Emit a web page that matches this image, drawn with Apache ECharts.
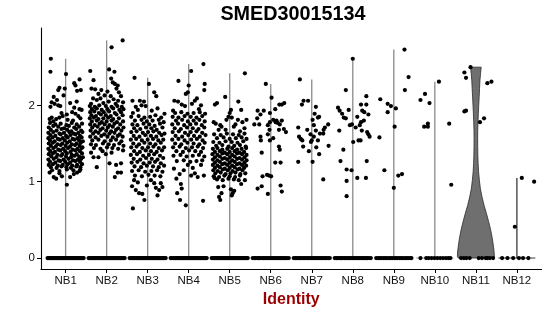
<!DOCTYPE html>
<html><head><meta charset="utf-8">
<script src="https://cdn.jsdelivr.net/npm/echarts@6/dist/echarts.min.js"></script>
<style>html,body{margin:0;padding:0;background:#fff}#c{width:550px;height:316px}</style>
</head><body><div id="c"></div>
<script>
const chartTitle = 'SMED30015134';
const xAxisTitle = 'Identity';
const categories = ['NB1','NB2','NB3','NB4','NB5','NB6','NB7','NB8','NB9','NB10','NB11','NB12'];
const yTickValues = [0, 1, 2];

// non-zero expression values per identity: [jitter offset, value]
const nb1Points = [
[-0.36,2.61],[-0.37,2.44],[0.01,2.41],[0.34,2.34],[0.21,2.29],[0.24,2.26],[0.37,2.20],[0.28,2.19],[-0.15,2.23],[-0.18,2.20],[-0.02,2.22],[-0.29,2.11],[-0.34,2.04],[-0.27,2.02],[-0.21,2.07],[-0.13,1.99],[-0.18,2.00],[-0.37,1.98],[0.11,2.03],[0.21,1.97],[0.34,1.95],[0.39,1.94],[0.24,1.89],[0.03,1.88],[0.16,1.91],[-0.34,1.84],[-0.39,1.82],[-0.23,1.82],[-0.15,1.84],[-0.07,1.86],[0.31,1.86],[0.36,1.83],[0.18,1.80],[-0.30,1.79],[0.05,1.81],[-0.10,1.90],[0.27,2.05],[-0.05,2.13],
[-0.38,1.77],[-0.25,1.75],[-0.12,1.76],[0.02,1.74],[0.15,1.77],[0.27,1.75],[0.40,1.76],
[-0.41,1.71],[-0.30,1.73],[-0.18,1.72],[-0.04,1.70],[0.08,1.73],[0.21,1.71],[0.33,1.72],
[-0.36,1.68],[-0.22,1.67],[-0.10,1.69],[0.04,1.68],[0.14,1.66],[0.26,1.69],[0.38,1.67],
[-0.42,1.64],[-0.30,1.65],[-0.15,1.63],[-0.04,1.64],[0.09,1.65],[0.20,1.63],[0.31,1.64],[0.41,1.65],
[-0.37,1.61],[-0.25,1.60],[-0.12,1.62],[0.01,1.60],[0.12,1.61],[0.24,1.62],[0.35,1.60],
[-0.42,1.57],[-0.32,1.58],[-0.19,1.56],[-0.07,1.57],[0.05,1.58],[0.17,1.56],[0.29,1.57],[0.39,1.58],
[-0.38,1.54],[-0.27,1.53],[-0.14,1.55],[-0.02,1.54],[0.10,1.53],[0.22,1.55],[0.33,1.54],[0.42,1.53],
[-0.41,1.50],[-0.31,1.51],[-0.20,1.49],[-0.08,1.50],[0.04,1.51],[0.15,1.49],[0.27,1.50],[0.37,1.51],
[-0.36,1.47],[-0.24,1.46],[-0.12,1.48],[0.00,1.47],[0.11,1.46],[0.23,1.48],[0.34,1.47],[0.41,1.45],
[-0.42,1.43],[-0.30,1.44],[-0.18,1.42],[-0.06,1.43],[0.06,1.44],[0.17,1.42],[0.29,1.43],[0.39,1.44],
[-0.37,1.40],[-0.26,1.39],[-0.13,1.41],[-0.01,1.40],[0.12,1.39],[0.24,1.41],[0.35,1.40],
[-0.41,1.36],[-0.31,1.37],[-0.20,1.35],[-0.08,1.36],[0.03,1.37],[0.15,1.35],[0.27,1.36],[0.40,1.37],
[-0.35,1.33],[-0.23,1.32],[-0.11,1.34],[0.01,1.33],[0.13,1.32],[0.22,1.34],[0.33,1.33],[0.42,1.32],
[-0.42,1.29],[-0.29,1.30],[-0.17,1.28],[-0.05,1.29],[0.07,1.30],[0.18,1.28],[0.30,1.29],[0.38,1.30],
[-0.38,1.26],[-0.25,1.25],[-0.13,1.27],[-0.01,1.26],[0.11,1.25],[0.24,1.27],[0.35,1.26],
[-0.41,1.22],[-0.31,1.23],[-0.19,1.21],[-0.07,1.22],[0.05,1.23],[0.16,1.21],[0.28,1.22],[0.40,1.23],
[-0.36,1.19],[-0.22,1.18],[-0.10,1.20],[0.02,1.19],[0.13,1.18],[0.26,1.20],[0.36,1.19],
[-0.33,1.15],[-0.15,1.14],[0.03,1.16],[0.19,1.15],[0.34,1.14],
[-0.23,1.04],[-0.29,1.06],[-0.09,1.07],[0.11,1.06],[0.03,0.96],[-0.15,1.11],[0.28,1.12],[0.20,1.10],[-0.39,1.12],[0.36,1.16]
];
const nb2Points = [
[0.39,2.85],[0.12,2.76],[-0.40,2.45],[0.06,2.47],[0.19,2.44],[-0.32,2.33],[0.11,2.35],[0.20,2.28],[0.15,2.30],[0.27,2.26],[0.24,2.22],[-0.37,2.22],[-0.28,2.21],[-0.13,2.20],[0.02,2.18],[0.30,2.17],[-0.20,2.15],[-0.05,2.13],[0.10,2.12],[0.35,2.12],[-0.33,2.09],[-0.24,2.07],[-0.15,2.09],[0.17,2.08],[0.28,2.06],[0.40,2.04],[-0.38,2.02],[-0.08,2.03],[0.05,2.05],[0.22,2.02],
[-0.41,1.99],[-0.29,1.98],[-0.18,2.00],[-0.02,1.99],[0.12,1.98],[0.26,1.99],[0.37,1.98],
[-0.36,1.95],[-0.24,1.96],[-0.12,1.94],[0.02,1.95],[0.16,1.96],[0.31,1.94],[0.41,1.95],
[-0.40,1.91],[-0.30,1.92],[-0.19,1.90],[-0.07,1.91],[0.06,1.92],[0.20,1.90],[0.35,1.91],
[-0.37,1.87],[-0.26,1.86],[-0.14,1.88],[-0.02,1.87],[0.10,1.86],[0.24,1.88],[0.39,1.87],
[-0.41,1.83],[-0.31,1.84],[-0.20,1.82],[-0.08,1.83],[0.04,1.84],[0.16,1.82],[0.30,1.83],
[-0.36,1.79],[-0.24,1.80],[-0.12,1.78],[0.00,1.79],[0.12,1.80],[0.25,1.78],[0.40,1.79],
[-0.40,1.75],[-0.29,1.74],[-0.17,1.76],[-0.05,1.75],[0.07,1.74],[0.19,1.76],[0.33,1.75],
[-0.35,1.71],[-0.22,1.72],[-0.10,1.70],[0.03,1.71],[0.15,1.72],[0.28,1.70],[0.41,1.71],
[-0.39,1.67],[-0.27,1.66],[-0.15,1.68],[-0.01,1.67],[0.11,1.66],[0.23,1.68],[0.36,1.67],
[-0.33,1.63],[-0.20,1.64],[-0.06,1.62],[0.07,1.63],[0.19,1.64],[0.32,1.62],
[-0.40,1.59],[-0.27,1.58],[-0.13,1.60],[0.02,1.59],[0.15,1.58],[0.27,1.60],[0.39,1.59],
[-0.35,1.54],[-0.20,1.55],[-0.05,1.53],[0.10,1.54],[0.23,1.55],[0.36,1.53],
[-0.38,1.49],[-0.26,1.48],[-0.09,1.50],[0.05,1.49],[0.18,1.48],[0.31,1.50],[0.41,1.47],
[-0.31,1.44],[-0.15,1.43],[0.01,1.45],[0.14,1.44],[0.28,1.43],
[-0.32,1.32],[-0.20,1.32],[-0.24,1.19],[-0.02,1.36],[0.07,1.24],[0.23,1.22],[0.20,1.06],[0.27,1.12],[0.35,1.12],[0.35,1.24],[0.40,1.41],[-0.38,1.38],[0.12,1.38],[-0.10,1.40]
];
const nb3Points = [
[-0.32,2.36],[0.03,2.28],[0.16,2.17],[0.21,2.12],[-0.37,2.06],[-0.19,2.06],[-0.09,2.05],[-0.29,1.98],[-0.15,2.00],[-0.05,1.99],[0.24,1.96],[0.41,1.89],[-0.36,1.90],[0.10,1.93],[-0.24,1.94],
[-0.40,1.85],[-0.22,1.86],[-0.08,1.84],[0.06,1.85],[0.19,1.87],[0.33,1.84],
[-0.31,1.80],[-0.15,1.81],[-0.02,1.79],[0.12,1.80],[0.27,1.81],[0.39,1.78],
[-0.37,1.75],[-0.25,1.74],[-0.10,1.76],[0.04,1.75],[0.17,1.73],[0.30,1.76],
[-0.33,1.70],[-0.18,1.69],[-0.04,1.71],[0.09,1.70],[0.22,1.68],[0.36,1.71],
[-0.40,1.65],[-0.27,1.66],[-0.12,1.64],[0.01,1.65],[0.14,1.66],[0.28,1.64],[0.41,1.63],
[-0.34,1.60],[-0.20,1.59],[-0.06,1.61],[0.08,1.60],[0.21,1.59],[0.34,1.61],
[-0.41,1.55],[-0.28,1.56],[-0.14,1.54],[0.00,1.55],[0.13,1.56],[0.26,1.54],[0.38,1.55],
[-0.35,1.50],[-0.21,1.49],[-0.08,1.51],[0.06,1.50],[0.19,1.49],[0.32,1.51],
[-0.40,1.45],[-0.27,1.46],[-0.13,1.44],[0.01,1.45],[0.14,1.46],[0.27,1.44],[0.40,1.45],
[-0.33,1.40],[-0.19,1.39],[-0.05,1.41],[0.08,1.40],[0.22,1.39],[0.35,1.41],
[-0.41,1.35],[-0.26,1.36],[-0.11,1.34],[0.03,1.35],[0.16,1.36],[0.30,1.34],
[-0.34,1.30],[-0.18,1.29],[-0.04,1.31],[0.10,1.30],[0.24,1.29],[0.38,1.31],
[-0.39,1.25],[-0.25,1.26],[-0.10,1.24],[0.05,1.25],[0.18,1.26],[0.32,1.24],
[-0.32,1.20],[-0.16,1.19],[-0.02,1.21],[0.13,1.20],[0.27,1.19],[0.40,1.21],
[-0.38,1.14],[-0.22,1.15],[-0.06,1.13],[0.09,1.14],[0.23,1.15],[0.36,1.13],
[-0.31,1.08],[-0.14,1.07],[0.02,1.09],[0.17,1.08],[0.31,1.07],
[-0.36,0.65],[-0.08,0.76],[-0.29,0.89],[-0.21,0.85],[-0.13,0.84],[-0.24,0.99],[-0.33,1.02],[0.24,0.82],[0.28,0.89],[0.36,0.93],[0.32,0.98],[0.16,0.98],[0.08,1.02],[-0.02,0.95],[0.20,0.92],[-0.38,0.94]
];
const nb4Points = [
[0.36,2.54],[0.06,2.45],[-0.25,2.32],[0.39,2.28],[0.38,2.20],[0.00,2.26],[-0.02,2.17],[-0.07,2.15],[0.20,2.09],[0.15,2.06],[-0.35,2.06],[-0.26,2.05],[-0.17,2.01],[-0.09,1.99],[-0.38,1.93],[0.30,2.00],[0.08,2.02],[0.25,1.95],
[-0.33,1.90],[-0.18,1.91],[-0.03,1.89],[0.12,1.90],[0.27,1.91],[0.40,1.89],
[-0.39,1.85],[-0.25,1.84],[-0.10,1.86],[0.05,1.85],[0.19,1.84],[0.33,1.86],
[-0.31,1.80],[-0.16,1.81],[-0.02,1.79],[0.12,1.80],[0.26,1.81],[0.39,1.79],
[-0.40,1.75],[-0.26,1.76],[-0.11,1.74],[0.04,1.75],[0.18,1.76],[0.32,1.74],
[-0.34,1.70],[-0.19,1.69],[-0.04,1.71],[0.10,1.70],[0.24,1.69],[0.38,1.71],
[-0.39,1.65],[-0.24,1.66],[-0.09,1.64],[0.05,1.65],[0.19,1.66],[0.33,1.64],
[-0.32,1.60],[-0.16,1.59],[-0.01,1.61],[0.13,1.60],[0.27,1.59],[0.41,1.61],
[-0.40,1.55],[-0.25,1.56],[-0.10,1.54],[0.06,1.55],[0.20,1.56],[0.34,1.54],
[-0.33,1.50],[-0.18,1.49],[-0.03,1.51],[0.12,1.50],[0.26,1.49],[0.39,1.51],
[-0.38,1.45],[-0.22,1.46],[-0.07,1.44],[0.08,1.45],[0.22,1.46],[0.35,1.44],
[-0.30,1.40],[-0.14,1.39],[0.01,1.41],[0.16,1.40],[0.30,1.39],
[-0.37,1.34],[-0.20,1.35],[-0.05,1.33],[0.10,1.34],[0.25,1.35],[0.38,1.33],
[-0.29,1.27],[-0.12,1.28],[0.04,1.26],[0.19,1.27],[0.33,1.28],
[-0.07,0.69],[-0.21,0.76],[-0.28,0.85],[0.35,0.75],[-0.17,0.91],[-0.19,0.97],[-0.30,1.04],[-0.22,1.10],[-0.02,1.22],[0.06,1.08],[0.22,1.06],[0.15,1.11],[0.37,1.08],[0.30,1.22],[-0.36,1.17],[0.10,1.18],[-0.12,1.15]
];
const nb5Points = [
[0.37,2.42],[-0.11,2.11],[-0.36,2.01],[-0.31,2.03],[0.21,2.05],[0.28,1.94],[0.03,1.94],[0.00,1.90],[-0.03,1.85],[0.05,1.84],[-0.08,1.81],[-0.39,1.78],[-0.34,1.76],[0.20,1.81],[0.41,1.81],[0.31,1.78],[-0.20,1.72],[-0.27,1.68],[-0.23,1.74],[0.10,1.72],[0.14,1.75],[0.36,1.70],[-0.10,1.68],[0.25,1.66],
[-0.38,1.62],[-0.22,1.61],[-0.07,1.63],[0.08,1.62],[0.22,1.61],[0.36,1.63],
[-0.31,1.57],[-0.15,1.58],[0.00,1.56],[0.15,1.57],[0.29,1.58],[0.41,1.56],
[-0.40,1.52],[-0.25,1.51],[-0.10,1.53],[0.05,1.52],[0.19,1.51],[0.33,1.53],
[-0.33,1.47],[-0.18,1.48],[-0.03,1.46],[0.11,1.47],[0.25,1.48],[0.39,1.46],
[-0.41,1.43],[-0.30,1.44],[-0.18,1.42],[-0.06,1.43],[0.06,1.44],[0.18,1.42],[0.29,1.43],[0.40,1.44],
[-0.36,1.39],[-0.24,1.40],[-0.12,1.38],[0.00,1.39],[0.12,1.40],[0.24,1.38],[0.35,1.39],
[-0.42,1.36],[-0.30,1.35],[-0.18,1.37],[-0.06,1.36],[0.06,1.35],[0.18,1.37],[0.30,1.36],[0.41,1.35],
[-0.36,1.32],[-0.24,1.33],[-0.12,1.31],[0.00,1.32],[0.12,1.33],[0.24,1.31],[0.36,1.32],
[-0.41,1.29],[-0.30,1.28],[-0.18,1.30],[-0.06,1.29],[0.06,1.28],[0.18,1.30],[0.30,1.29],[0.41,1.28],
[-0.36,1.25],[-0.24,1.26],[-0.12,1.24],[0.00,1.25],[0.12,1.26],[0.24,1.24],[0.36,1.25],
[-0.41,1.22],[-0.30,1.21],[-0.18,1.23],[-0.06,1.22],[0.06,1.21],[0.18,1.23],[0.30,1.22],[0.40,1.21],
[-0.36,1.18],[-0.24,1.19],[-0.12,1.17],[0.00,1.18],[0.12,1.19],[0.24,1.17],[0.35,1.18],
[-0.40,1.15],[-0.29,1.14],[-0.17,1.16],[-0.05,1.15],[0.07,1.14],[0.19,1.16],[0.31,1.15],
[-0.35,1.11],[-0.22,1.12],[-0.10,1.10],[0.02,1.11],[0.14,1.12],[0.26,1.10],[0.38,1.11],
[-0.39,1.07],[-0.26,1.06],[-0.13,1.08],[0.00,1.07],[0.13,1.06],[0.25,1.08],
[-0.31,1.03],[-0.17,1.02],[-0.03,1.04],[0.10,1.03],[0.22,1.02],
[-0.23,0.76],[-0.26,0.80],[-0.20,0.85],[-0.28,0.93],[0.07,0.85],[0.11,0.88],[0.03,0.90],[0.28,0.97],[0.37,1.02],[-0.15,0.94],[-0.37,1.05],[0.05,0.82]
];
const nb6Points = [
[-0.12,2.28],[0.02,2.10],[0.33,2.03],[0.27,2.01],[0.21,2.01],[0.11,1.95],[-0.32,1.93],[-0.17,1.93],[-0.25,1.88],[-0.02,1.90],[-0.33,1.83],[0.06,1.81],[0.14,1.80],[0.12,1.78],[0.17,1.77],[-0.40,1.75],[-0.28,1.75],[-0.02,1.78],[-0.07,1.74],[0.22,1.75],[0.27,1.80],[0.32,1.69],[0.37,1.65],[0.20,1.68],[-0.03,1.68],[-0.25,1.59],[-0.07,1.62],[-0.24,1.54],[-0.02,1.54],[0.06,1.57],[0.20,1.46],[0.22,1.42],[-0.22,1.38],[0.24,1.25],[0.11,1.25],[-0.09,1.09],[0.01,1.07],[-0.04,1.08],[-0.20,1.07],[0.24,0.95],[-0.22,0.94],[-0.32,0.91],[0.27,0.87],[-0.07,0.84]
];
const nb7Points = [
[-0.29,2.34],[-0.24,2.01],[-0.20,2.06],[-0.09,2.06],[0.10,1.98],[0.07,1.89],[0.18,1.85],[0.15,1.84],[0.02,1.81],[0.05,1.74],[-0.33,1.71],[-0.11,1.68],[0.40,1.75],[0.32,1.71],[0.29,1.68],[0.10,1.67],[0.20,1.63],[0.28,1.63],[-0.03,1.62],[0.05,1.59],[-0.31,1.59],[-0.27,1.56],[-0.23,1.54],[0.15,1.54],[0.00,1.54],[-0.02,1.52],[0.41,1.47],[-0.21,1.46],[0.11,1.45],[-0.07,1.40],[0.18,1.36],[-0.33,1.26],[0.02,1.26],[0.28,1.03]
];
const nb8Points = [
[0.00,2.61],[-0.17,2.20],[-0.36,1.97],[-0.32,1.93],[-0.26,1.89],[-0.22,1.84],[-0.17,1.83],[-0.10,1.94],[0.20,2.01],[0.33,2.12],[0.33,2.01],[0.23,1.93],[0.28,1.91],[0.38,1.88],[0.11,1.85],[0.20,1.78],[0.27,1.80],[-0.07,1.74],[-0.02,1.75],[0.07,1.71],[0.17,1.74],[0.22,1.67],[-0.33,1.67],[0.35,1.65],[0.41,1.59],[0.38,1.62],[0.14,1.54],[0.19,1.54],[0.01,1.52],[-0.23,1.42],[-0.30,1.27],[0.34,1.27],[-0.15,1.16],[-0.03,1.15],[0.11,1.05],[0.32,1.05],[-0.15,1.01],[-0.15,0.81]
];
const nb9Points = [
[0.26,2.73],[0.36,2.37],[0.27,2.20],[-0.33,2.08],[-0.15,2.02],[-0.07,1.99],[0.05,1.96],[-0.15,1.91],[0.02,1.72],[-0.35,1.58],[-0.23,1.15],[0.20,1.10],[0.11,1.08],[0.00,0.92]
];
const nb10Points = [
[0.10,2.31],[-0.24,2.15],[-0.35,2.07],[-0.13,2.03],[-0.17,1.76],[-0.17,1.72],[-0.26,1.72],[0.35,1.76],[0.40,0.96]
];
const nb11Points = [
[-0.13,2.50],[-0.28,2.43],[-0.24,2.36],[0.28,2.29],[0.38,2.31],[-0.28,1.92],[-0.24,1.93],[0.10,1.78],[0.20,1.83]
];
const nb12Points = [
[0.12,1.05],[0.42,1.00],[-0.05,0.41]
];

// jitter offsets of the cells with zero expression
const zeroOffsetsDense = [-0.44,-0.41,-0.38,-0.36,-0.33,-0.31,-0.28,-0.26,-0.23,-0.21,-0.18,-0.16,-0.13,-0.11,-0.08,-0.06,-0.03,-0.01,0.02,0.04,0.07,0.09,0.12,0.14,0.17,0.19,0.22,0.24,0.27,0.29,0.32,0.34,0.37,0.39,0.42,0.44];
const zeroOffsetsMedium = [-0.44,-0.40,-0.37,-0.33,-0.30,-0.27,-0.24,-0.20,-0.17,-0.14,-0.10,-0.07,-0.04,0.00,0.03,0.06,0.10,0.13,0.16,0.20,0.23,0.26,0.30,0.33,0.36,0.40,0.44];
const zeroOffsetsNB9 = [-0.43,-0.38,-0.34,-0.30,-0.25,-0.21,-0.17,-0.12,-0.08,-0.04,0.01,0.05,0.09,0.14,0.18,0.22,0.27,0.31,0.35,0.40,0.43];
const zeroOffsetsNB10 = [-0.35,-0.21,-0.15,-0.08,-0.01,0.06,0.13,0.20,0.27,0.33,0.38];
const zeroOffsetsNB11 = [-0.36,-0.29,-0.23,-0.15,0.07,0.15,0.24,0.28,0.34,0.42];
const zeroOffsetsNB12 = [-0.36,-0.23,-0.09,0.05,0.15,0.28];

// estimated density outline (half width, in category units) for NB11
const nb11ViolinLevels = [0, 0.02, 0.08, 0.15, 0.26, 0.37, 0.48, 0.58, 0.69, 0.80, 0.91, 1.02, 1.13, 1.24, 1.35, 1.46, 1.57, 1.67, 1.78, 1.89, 2.00, 2.11, 2.22, 2.33, 2.42, 2.50];
const nb11ViolinHalf   = [0.43, 0.45, 0.445, 0.43, 0.40, 0.36, 0.31, 0.26, 0.20, 0.15, 0.11, 0.085, 0.066, 0.055, 0.048, 0.045, 0.044, 0.046, 0.052, 0.06, 0.07, 0.08, 0.09, 0.10, 0.115, 0.13];

const pointsByCat = [nb1Points,nb2Points,nb3Points,nb4Points,nb5Points,nb6Points,nb7Points,nb8Points,nb9Points,nb10Points,nb11Points,nb12Points];
const zerosByCat = [zeroOffsetsDense,zeroOffsetsDense,zeroOffsetsDense,zeroOffsetsDense,zeroOffsetsDense,zeroOffsetsMedium,zeroOffsetsMedium,zeroOffsetsMedium,zeroOffsetsNB9,zeroOffsetsNB10,zeroOffsetsNB11,zeroOffsetsNB12];

const scatterData = [];
pointsByCat.forEach((pts, i) => {
  zerosByCat[i].forEach(o => scatterData.push([i + 1 + o, 0]));
  pts.forEach(p => scatterData.push([i + 1 + p[0], p[1]]));
});
const violinData = categories.map((c, i) => [i + 1, Math.max(...pointsByCat[i].map(p => p[1]))]);
const catPositions = categories.map((c, i) => i + 1);

function renderViolin(params, api) {
  const pos = api.value(0), top = api.value(1);
  const name = categories[params.dataIndex];
  if (name === 'NB11') {
    const right = nb11ViolinLevels.map((lv, k) => api.coord([pos + nb11ViolinHalf[k], lv]));
    const left = nb11ViolinLevels.map((lv, k) => api.coord([pos - nb11ViolinHalf[k], lv])).reverse();
    return { type: 'polygon', shape: { points: right.concat(left) },
      style: { fill: '#6f6f6f', stroke: '#2b2b2b', lineWidth: 0.8 } };
  }
  const color = name === 'NB12' ? '#3a3a3a' : '#8a8a8a';
  const p0 = api.coord([pos, 0]), p1 = api.coord([pos, top]);
  const b0 = api.coord([pos - 0.45, 0]), b1 = api.coord([pos + 0.45, 0]);
  return { type: 'group', children: [
    { type: 'line', shape: { x1: p0[0], y1: p0[1], x2: p1[0], y2: p1[1] }, style: { stroke: color, lineWidth: 1.3 } },
    { type: 'line', shape: { x1: b0[0], y1: b0[1], x2: b1[0], y2: b1[1] }, style: { stroke: color, lineWidth: 1 } }
  ]};
}

const chart = echarts.init(document.getElementById('c'), null, { renderer: 'canvas' });
const fontFam = '"Liberation Sans", Arial, Helvetica, sans-serif';
chart.setOption({
  animation: false,
  backgroundColor: '#fff',
  grid: { left: 41, right: 8.5, top: 28, bottom: 47, containLabel: false, outerBoundsMode: 'none' },
  graphic: [{ type: 'text', x: 293, y: 15, style: { text: chartTitle, textAlign: 'center', textVerticalAlign: 'middle',
    font: 'bold 19.8px ' + fontFam, fill: '#000' } }],
  xAxis: {
    type: 'value', min: 0.4, max: 12.6,
    name: xAxisTitle, nameLocation: 'middle', nameGap: 22,
    nameTextStyle: { color: '#9b0000', fontWeight: 'bold', fontSize: 16, fontFamily: fontFam },
    axisLine: { show: true, onZero: false, lineStyle: { color: '#000', width: 1.1 } },
    axisTick: { show: true, customValues: catPositions, length: 4, lineStyle: { color: '#000', width: 1 } },
    axisLabel: { customValues: catPositions, formatter: v => categories[Math.round(v) - 1], margin: 6,
      color: '#111', fontSize: 11.5, fontFamily: fontFam },
    splitLine: { show: false }
  },
  yAxis: {
    type: 'value', min: -0.1435, max: 3.013,
    axisLine: { show: true, onZero: false, lineStyle: { color: '#000', width: 1.1 } },
    axisTick: { show: true, customValues: yTickValues, length: 4, lineStyle: { color: '#000', width: 1 } },
    axisLabel: { customValues: yTickValues, margin: 6, color: '#111', fontSize: 11.5, fontFamily: fontFam },
    splitLine: { show: false }
  },
  series: [
    { type: 'custom', renderItem: renderViolin, data: violinData, encode: { x: 0, y: 1 }, z: 1, silent: true },
    { type: 'scatter', data: scatterData, symbol: 'circle', symbolSize: 4.2, z: 2, silent: true,
      itemStyle: { color: '#000', opacity: 1 } }
  ]
});
</script></body></html>
